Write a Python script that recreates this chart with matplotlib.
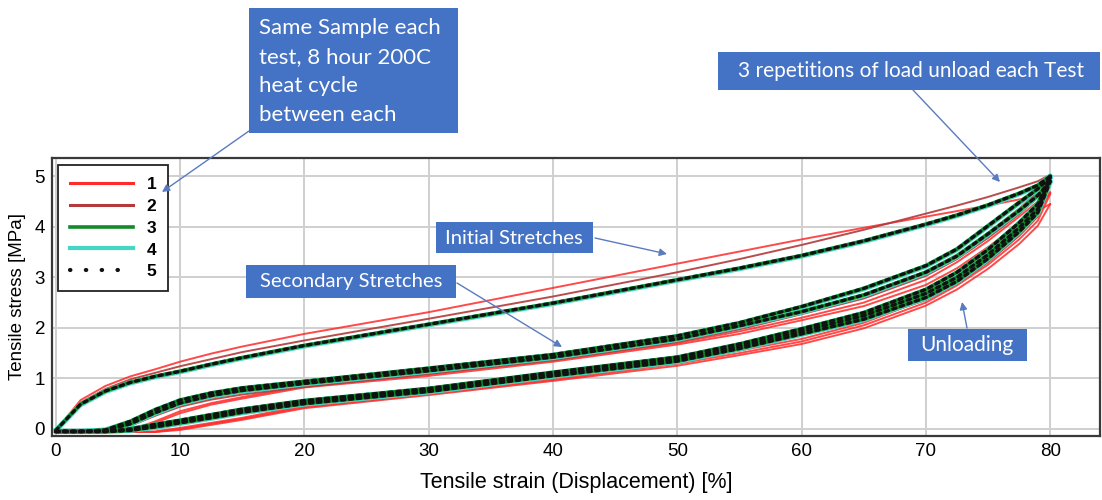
import matplotlib
matplotlib.use("Agg")
import matplotlib.pyplot as plt
from matplotlib.patches import Rectangle, FancyArrowPatch
from matplotlib.lines import Line2D

# ---------------- data (strain grid in %, stress in MPa) ----------------
strain = [0, 2, 4, 6, 8, 10, 12.5, 15, 20, 30, 40, 50, 55, 60, 65, 70, 72.5, 75, 77.5, 79, 80]

# Test 1 (red)
t1_load1   = [-0.03, 0.57, 0.85, 1.04, 1.18, 1.33, 1.49, 1.63, 1.88, 2.31, 2.79, 3.27, 3.51, 3.75, 3.98, 4.20, 4.31, 4.42, 4.54, 4.62, 4.68]
t1_unload1 = [-0.06, -0.06, -0.06, -0.06, -0.05, 0.02, 0.12, 0.22, 0.46, 0.72, 1.00, 1.32, 1.55, 1.78, 2.10, 2.57, 2.92, 3.33, 3.85, 4.25, 4.68]
t1_load2   = [-0.06, -0.06, -0.06, -0.02, 0.15, 0.35, 0.51, 0.63, 0.85, 1.08, 1.36, 1.70, 1.93, 2.20, 2.50, 2.95, 3.30, 3.72, 4.20, 4.50, 4.65]
t1_unload2 = [-0.06, -0.06, -0.06, -0.06, -0.06, 0.00, 0.10, 0.20, 0.43, 0.69, 0.97, 1.29, 1.50, 1.73, 2.05, 2.50, 2.84, 3.25, 3.75, 4.12, 4.65]
t1_load3   = [-0.06, -0.06, -0.06, -0.03, 0.12, 0.31, 0.48, 0.60, 0.82, 1.05, 1.33, 1.67, 1.88, 2.15, 2.43, 2.85, 3.18, 3.60, 4.05, 4.32, 4.45]
t1_unload3 = [-0.06, -0.06, -0.06, -0.06, -0.06, -0.02, 0.08, 0.18, 0.41, 0.67, 0.95, 1.25, 1.46, 1.68, 1.99, 2.44, 2.76, 3.17, 3.66, 4.02, 4.45]

# Test 2 (dark red)
t2_load1   = [-0.03, 0.52, 0.79, 0.98, 1.11, 1.24, 1.38, 1.52, 1.75, 2.18, 2.62, 3.10, 3.36, 3.64, 3.94, 4.26, 4.42, 4.59, 4.78, 4.90, 5.03]
t2_unload1 = [-0.05, -0.05, -0.05, -0.03, 0.05, 0.13, 0.24, 0.35, 0.52, 0.76, 1.08, 1.38, 1.63, 1.93, 2.24, 2.68, 3.01, 3.46, 3.99, 4.37, 5.03]
t2_load2   = [-0.05, -0.05, -0.03, 0.10, 0.30, 0.48, 0.62, 0.72, 0.87, 1.13, 1.40, 1.76, 2.02, 2.33, 2.66, 3.12, 3.45, 3.88, 4.36, 4.68, 4.95]
t2_unload2 = [-0.05, -0.05, -0.05, -0.04, 0.03, 0.11, 0.22, 0.32, 0.49, 0.73, 1.04, 1.34, 1.59, 1.88, 2.18, 2.60, 2.92, 3.37, 3.90, 4.28, 4.95]
t2_load3   = [-0.05, -0.05, -0.04, 0.06, 0.26, 0.44, 0.58, 0.68, 0.83, 1.09, 1.36, 1.72, 1.97, 2.27, 2.58, 3.03, 3.36, 3.78, 4.25, 4.58, 4.85]
t2_unload3 = [-0.05, -0.05, -0.05, -0.05, 0.01, 0.09, 0.20, 0.30, 0.47, 0.71, 1.02, 1.32, 1.56, 1.85, 2.14, 2.55, 2.87, 3.30, 3.82, 4.20, 4.85]

# Test 3 (green)
t3_load1   = [-0.03, 0.49, 0.75, 0.92, 1.04, 1.14, 1.28, 1.41, 1.65, 2.07, 2.49, 2.95, 3.18, 3.43, 3.72, 4.05, 4.23, 4.43, 4.66, 4.82, 5.00]
t3_unload1 = [-0.05, -0.05, -0.05, 0.00, 0.09, 0.17, 0.28, 0.39, 0.56, 0.80, 1.12, 1.42, 1.68, 1.98, 2.30, 2.76, 3.10, 3.55, 4.08, 4.45, 5.00]
t3_load2   = [-0.05, -0.05, -0.02, 0.15, 0.38, 0.57, 0.71, 0.81, 0.94, 1.20, 1.47, 1.84, 2.10, 2.42, 2.78, 3.23, 3.56, 4.02, 4.48, 4.75, 4.98]
t3_unload2 = [-0.05, -0.05, -0.05, -0.02, 0.06, 0.14, 0.25, 0.36, 0.53, 0.77, 1.08, 1.38, 1.63, 1.93, 2.24, 2.68, 3.00, 3.45, 3.98, 4.35, 4.98]
t3_load3   = [-0.05, -0.05, -0.03, 0.10, 0.32, 0.51, 0.66, 0.76, 0.90, 1.15, 1.42, 1.78, 2.04, 2.32, 2.65, 3.10, 3.42, 3.86, 4.32, 4.62, 4.90]
t3_unload3 = [-0.05, -0.05, -0.05, -0.03, 0.04, 0.12, 0.22, 0.33, 0.50, 0.74, 1.05, 1.34, 1.59, 1.88, 2.17, 2.60, 2.92, 3.37, 3.90, 4.28, 4.90]

# Test 4 (turquoise)
t4_load1   = [-0.03, 0.48, 0.74, 0.91, 1.03, 1.13, 1.27, 1.40, 1.64, 2.06, 2.48, 2.94, 3.17, 3.42, 3.71, 4.04, 4.22, 4.42, 4.65, 4.81, 5.00]
t4_unload1 = [-0.05, -0.05, -0.05, 0.00, 0.08, 0.16, 0.27, 0.38, 0.55, 0.79, 1.11, 1.41, 1.67, 1.97, 2.29, 2.75, 3.09, 3.54, 4.07, 4.44, 5.00]
t4_load2   = [-0.05, -0.05, -0.02, 0.14, 0.37, 0.56, 0.70, 0.80, 0.93, 1.19, 1.46, 1.83, 2.09, 2.41, 2.77, 3.22, 3.55, 4.01, 4.47, 4.74, 4.97]
t4_unload2 = [-0.05, -0.05, -0.05, -0.02, 0.05, 0.13, 0.24, 0.35, 0.52, 0.76, 1.07, 1.37, 1.62, 1.92, 2.23, 2.67, 2.99, 3.44, 3.97, 4.34, 4.97]
t4_load3   = [-0.05, -0.05, -0.03, 0.09, 0.31, 0.50, 0.65, 0.75, 0.89, 1.14, 1.41, 1.77, 2.03, 2.31, 2.64, 3.09, 3.41, 3.85, 4.31, 4.61, 4.89]
t4_unload3 = [-0.05, -0.05, -0.05, -0.03, 0.03, 0.11, 0.21, 0.32, 0.49, 0.73, 1.04, 1.33, 1.58, 1.87, 2.16, 2.59, 2.91, 3.36, 3.89, 4.27, 4.89]

# Test 5 (black dotted)
t5_load1   = [-0.03, 0.49, 0.75, 0.92, 1.04, 1.14, 1.28, 1.41, 1.65, 2.07, 2.49, 2.95, 3.18, 3.43, 3.72, 4.05, 4.23, 4.43, 4.66, 4.82, 5.00]
t5_unload1 = [-0.05, -0.05, -0.05, 0.00, 0.09, 0.17, 0.28, 0.39, 0.56, 0.80, 1.12, 1.42, 1.68, 1.98, 2.30, 2.76, 3.10, 3.55, 4.08, 4.45, 5.00]
t5_load2   = [-0.05, -0.05, -0.02, 0.15, 0.38, 0.57, 0.71, 0.81, 0.94, 1.20, 1.47, 1.84, 2.10, 2.42, 2.78, 3.23, 3.56, 4.02, 4.48, 4.75, 4.98]
t5_unload2 = [-0.05, -0.05, -0.05, -0.02, 0.06, 0.14, 0.25, 0.36, 0.53, 0.77, 1.08, 1.38, 1.63, 1.93, 2.24, 2.68, 3.00, 3.45, 3.98, 4.35, 4.98]
t5_load3   = [-0.05, -0.05, -0.03, 0.10, 0.32, 0.51, 0.66, 0.76, 0.90, 1.15, 1.42, 1.78, 2.04, 2.32, 2.65, 3.10, 3.42, 3.86, 4.32, 4.62, 4.90]
t5_unload3 = [-0.05, -0.05, -0.05, -0.03, 0.04, 0.12, 0.22, 0.33, 0.50, 0.74, 1.05, 1.34, 1.59, 1.88, 2.17, 2.60, 2.92, 3.37, 3.90, 4.28, 4.90]

test_labels = ["1", "2", "3", "4", "5"]
x_ticks = [0, 10, 20, 30, 40, 50, 60, 70, 80]
y_ticks = [0, 1, 2, 3, 4, 5]

tests = [
    [t1_load1, t1_unload1, t1_load2, t1_unload2, t1_load3, t1_unload3],
    [t2_load1, t2_unload1, t2_load2, t2_unload2, t2_load3, t2_unload3],
    [t3_load1, t3_unload1, t3_load2, t3_unload2, t3_load3, t3_unload3],
    [t4_load1, t4_unload1, t4_load2, t4_unload2, t4_load3, t4_unload3],
    [t5_load1, t5_unload1, t5_load2, t5_unload2, t5_load3, t5_unload3],
]

# ---------------- styles ----------------
styles = [
    dict(color="#ff2a2a", lw=1.4, ls="-", zorder=2, alpha=0.85),
    dict(color="#b23a3a", lw=1.4, ls="-", zorder=2, alpha=0.9),
    dict(color="#138a2a", lw=2.6, ls="-", zorder=4),
    dict(color="#46d6c6", lw=3.6, ls="-", zorder=3),
    dict(color="#111111", lw=2.4, ls=(0, (1, 1.4)), zorder=5),
]

W, H = 1102, 500
fig = plt.figure(figsize=(W / 100, H / 100), dpi=100)
fig.patch.set_facecolor("white")

def fx(px):
    return px / W

def fy(py):
    return 1 - py / H

ax_l, ax_r, ax_t, ax_b = 52, 1100, 158, 436
ax = fig.add_axes([fx(ax_l), fy(ax_b), (ax_r - ax_l) / W, (ax_b - ax_t) / H])

for segs, st in zip(tests, styles):
    for s in segs:
        ax.plot(strain, s, color=st["color"], lw=st["lw"], ls=st["ls"],
                zorder=st["zorder"], alpha=st.get("alpha", 1.0),
                solid_capstyle="round", solid_joinstyle="round",
                dash_capstyle="round")

ax.set_xlim(-0.3, 84)
ax.set_ylim(-0.14, 5.36)
ax.set_xticks(x_ticks)
ax.set_yticks(y_ticks)
ax.grid(True, color="#cfcfcf", lw=1.4)
ax.set_axisbelow(True)
ax.tick_params(length=0, labelsize=13.5, pad=5)
for lab in ax.get_xticklabels() + ax.get_yticklabels():
    lab.set_fontfamily("Liberation Sans")
for sp in ax.spines.values():
    sp.set_color("#3a3a3a")
    sp.set_linewidth(1.6)

ax.set_xlabel("Tensile strain (Displacement) [%]", fontsize=15.5,
              fontfamily="Liberation Sans", labelpad=9)
ax.set_ylabel("Tensile stress [MPa]", fontsize=13.5,
              fontfamily="Liberation Sans", labelpad=6)

# legend
handles = [
    Line2D([0], [0], color="#ff2a2a", lw=2.2),
    Line2D([0], [0], color="#b23a3a", lw=2.2),
    Line2D([0], [0], color="#138a2a", lw=2.6),
    Line2D([0], [0], color="#46d6c6", lw=3.0),
    Line2D([0], [0], color="#111111", lw=3.0, ls=(0, (0.1, 3.7)), dash_capstyle="round"),
]
leg = ax.legend(handles, test_labels, loc="upper left",
                bbox_to_anchor=((58 - ax_l) / (ax_r - ax_l), 1 - (165 - ax_t) / (ax_b - ax_t)),
                borderaxespad=0, fancybox=False, framealpha=1, edgecolor="#222222",
                handlelength=3.6, handletextpad=0.8, labelspacing=0.38,
                borderpad=0.7, prop=dict(family="Liberation Sans", weight="bold", size=12.5))
leg.get_frame().set_linewidth(1.3)

# ---------------- annotation boxes ----------------
box_color = "#4472c4"
arrow_color = "#5a7bbf"

def add_box(x0, y0, x1, y1):
    fig.add_artist(Rectangle((fx(x0), fy(y1)), (x1 - x0) / W, (y1 - y0) / H,
                             transform=fig.transFigure, facecolor=box_color,
                             edgecolor="none", zorder=10))

def add_text(px, py, s, size, ha="left"):
    fig.text(fx(px), fy(py), s, color="white", fontsize=size, fontfamily="Lato",
             ha=ha, va="center", zorder=11)

def add_arrow(p0, p1):
    fig.add_artist(FancyArrowPatch((fx(p0[0]), fy(p0[1])), (fx(p1[0]), fy(p1[1])),
                                   transform=fig.transFigure, arrowstyle="-|>",
                                   mutation_scale=11, color=arrow_color, lw=1.0,
                                   zorder=12, shrinkA=0, shrinkB=0))

# box 1
add_box(249, 8, 458, 133)
for py, line in zip([28, 57, 86, 115],
                    ["Same Sample each", "test, 8 hour 200C", "heat cycle", "between each"]):
    add_text(259, py, line, 16)
add_arrow((249, 131), (162, 192))

# box 2
add_box(718, 52, 1100, 90)
add_text(911, 71, "3 repetitions of load unload each Test", 15, ha="center")
add_arrow((913, 90), (1000, 182))

# box 3
add_box(436, 222, 593, 253)
add_text(514, 238, "Initial Stretches", 14.6, ha="center")
add_arrow((595, 238), (667, 254))

# box 4
add_box(246, 265, 456, 298)
add_text(351, 282, "Secondary Stretches", 14.6, ha="center")
add_arrow((457, 283), (562, 347))

# box 5
add_box(908, 329, 1027, 361)
add_text(967, 345, "Unloading", 15, ha="center")
add_arrow((967, 328), (962, 302))

fig.savefig("out.png", dpi=100)
